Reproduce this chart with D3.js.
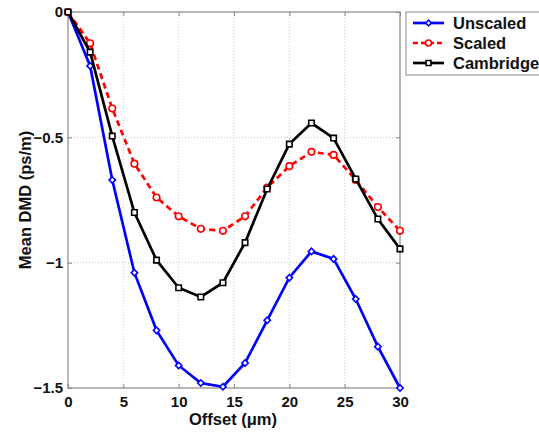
<!DOCTYPE html>
<html>
<head>
<meta charset="utf-8">
<script src="https://cdn.jsdelivr.net/npm/d3@7"></script>
<style>
  body { margin: 0; background: #fff; }
  svg { display: block; font-family: "Liberation Sans", Arial, sans-serif; }
</style>
</head>
<body>
<svg id="chart" width="539" height="433"></svg>
<script>
// data
const offsets = [0, 2, 4, 6, 8, 10, 12, 14, 16, 18, 20, 22, 24, 26, 28, 30];
const unscaled = [0, -0.215, -0.67, -1.04, -1.27, -1.41, -1.48, -1.495, -1.40, -1.23, -1.06, -0.955, -0.985, -1.145, -1.335, -1.5];
const scaled = [0, -0.125, -0.385, -0.605, -0.74, -0.815, -0.865, -0.873, -0.815, -0.70, -0.615, -0.558, -0.57, -0.67, -0.778, -0.873];
const cambridge = [0, -0.16, -0.495, -0.80, -0.99, -1.10, -1.137, -1.08, -0.92, -0.706, -0.527, -0.443, -0.503, -0.666, -0.826, -0.945];
const xTicks = [0, 5, 10, 15, 20, 25, 30];
const yTicks = [0, -0.5, -1, -1.5];

// rotate=45 turns the square into a matlab-style diamond
const series = [
  { name: "Unscaled", values: unscaled, color: "#0000ff", dash: null, symbol: d3.symbolSquare, size: 20, rotate: 45 },
  { name: "Scaled", values: scaled, color: "#ff0000", dash: "6,4", symbol: d3.symbolCircle, size: 34, rotate: 0 },
  { name: "Cambridge", values: cambridge, color: "#000000", dash: null, symbol: d3.symbolSquare, size: 30, rotate: 0 }
];

const svg = d3.select("#chart");
const pLeft = 68, pRight = 400, pTop = 12, pBottom = 388;

const x = d3.scaleLinear().domain([0, 30]).range([pLeft, pRight]);
const y = d3.scaleLinear().domain([-1.5, 0]).range([pBottom, pTop]);

// grid
const grid = svg.append("g");
grid.selectAll(".gx").data(xTicks.slice(1, -1)).join("line")
  .attr("x1", d => x(d)).attr("x2", d => x(d))
  .attr("y1", pTop).attr("y2", pBottom)
  .attr("stroke", "#c8c8c8").attr("stroke-width", 1).attr("stroke-dasharray", "1,2");
grid.selectAll(".gy").data(yTicks.slice(1, -1)).join("line")
  .attr("x1", pLeft).attr("x2", pRight)
  .attr("y1", d => y(d)).attr("y2", d => y(d))
  .attr("stroke", "#c8c8c8").attr("stroke-width", 1).attr("stroke-dasharray", "1,2");

// axes box
svg.append("rect")
  .attr("x", pLeft).attr("y", pTop)
  .attr("width", pRight - pLeft).attr("height", pBottom - pTop)
  .attr("fill", "none").attr("stroke", "#888").attr("stroke-width", 1.2);

// inward ticks
svg.append("g").attr("transform", `translate(0,${pBottom})`)
  .call(d3.axisBottom(x).tickValues(xTicks).tickSize(-4).tickPadding(8).tickFormat(d3.format("d")));
svg.append("g").attr("transform", `translate(${pLeft},0)`)
  .call(d3.axisLeft(y).tickValues(yTicks).tickSize(-4).tickPadding(5).tickFormat(d => d === 0 ? "0" : d3.format("")(d)));
svg.append("g").attr("transform", `translate(0,${pTop})`)
  .call(d3.axisTop(x).tickValues(xTicks).tickSize(-4).tickFormat(""));
svg.append("g").attr("transform", `translate(${pRight},0)`)
  .call(d3.axisRight(y).tickValues(yTicks).tickSize(-4).tickFormat(""));
svg.selectAll(".domain").remove();
svg.selectAll(".tick line").attr("stroke", "#888");
svg.selectAll(".tick text")
  .attr("font-family", "Liberation Sans, Arial, sans-serif")
  .attr("font-size", 15).attr("font-weight", "bold").attr("fill", "#111");

// lines and markers
const line = d3.line().x((d, i) => x(offsets[i])).y(d => y(d));
series.forEach(s => {
  svg.append("path")
    .datum(s.values)
    .attr("d", line)
    .attr("fill", "none")
    .attr("stroke", s.color)
    .attr("stroke-width", 2.7)
    .attr("stroke-dasharray", s.dash);
  svg.append("g").selectAll("path").data(s.values).join("path")
    .attr("transform", (d, i) => `translate(${x(offsets[i])},${y(d)}) rotate(${s.rotate})`)
    .attr("d", d3.symbol().type(s.symbol).size(s.size))
    .attr("fill", "#fff")
    .attr("stroke", s.color)
    .attr("stroke-width", 1.6);
});

// axis titles
svg.append("text")
  .attr("x", 233).attr("y", 425)
  .attr("text-anchor", "middle")
  .attr("font-size", 16.5).attr("font-weight", "bold").attr("fill", "#111")
  .text("Offset (μm)");
svg.append("text")
  .attr("transform", "translate(31,200) rotate(-90)")
  .attr("text-anchor", "middle")
  .attr("font-size", 16.5).attr("font-weight", "bold").attr("fill", "#111")
  .text("Mean DMD (ps/m)");

// legend
const legend = svg.append("g");
legend.append("rect")
  .attr("x", 406).attr("y", 12).attr("width", 150).attr("height", 63)
  .attr("fill", "#fff").attr("stroke", "#888").attr("stroke-width", 1);
series.forEach((s, i) => {
  const ly = 23 + i * 20;
  legend.append("line")
    .attr("x1", 413).attr("x2", 444).attr("y1", ly).attr("y2", ly)
    .attr("stroke", s.color).attr("stroke-width", 2.7)
    .attr("stroke-dasharray", s.dash ? "5,3" : null);
  legend.append("path")
    .attr("transform", `translate(428.5,${ly}) rotate(${s.rotate})`)
    .attr("d", d3.symbol().type(s.symbol).size(s.size * 0.8))
    .attr("fill", "#fff").attr("stroke", s.color).attr("stroke-width", 1.6);
  legend.append("text")
    .attr("x", 453).attr("y", ly + 6)
    .attr("font-size", 16.5).attr("font-weight", "bold").attr("fill", "#111")
    .text(s.name);
});
</script>
</body>
</html>
